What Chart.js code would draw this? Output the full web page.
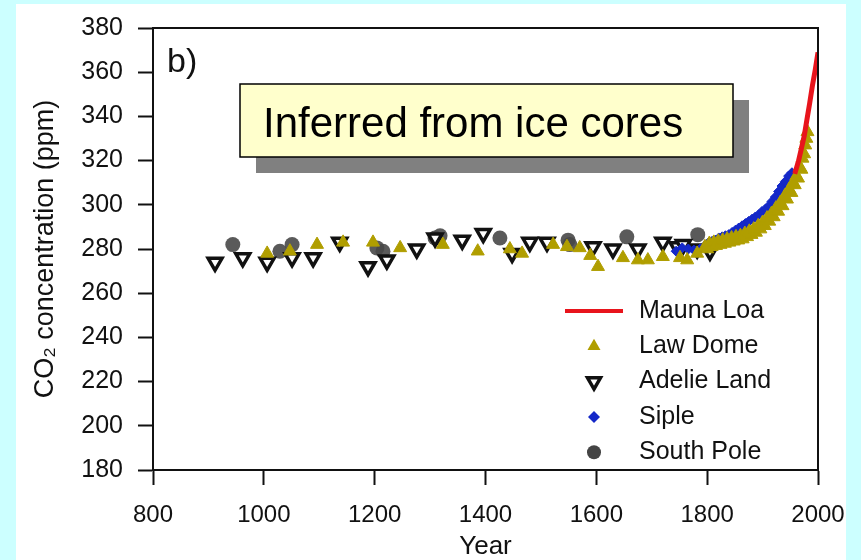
<!DOCTYPE html>
<html>
<head>
<meta charset="utf-8">
<script src="https://cdn.jsdelivr.net/npm/chart.js@4.4.1/dist/chart.umd.min.js"></script>
<style>
  html, body { margin: 0; padding: 0; background: #ccffff; }
  #panel { position: absolute; left: 16px; top: 4px; width: 830px; height: 556px; background: #fff; }
  canvas { display: block; }
</style>
</head>
<body>
<div id="panel"><canvas id="co2Chart" width="830" height="556"></canvas></div>
<script>
// tick labels
const xTicks = [800, 1000, 1200, 1400, 1600, 1800, 2000];
const yTicks = [180, 200, 220, 240, 260, 280, 300, 320, 340, 360, 380];

// Mauna Loa (direct measurements)
const maunaLoaYears = [1958, 1965, 1970, 1975, 1980, 1985, 1990, 1995, 2000];
const maunaLoaPpm   = [314, 320, 325.5, 331, 338.5, 346, 354, 361, 369];

// Law Dome
const lawDomeYears = [1006, 1047, 1096, 1143, 1197, 1246, 1323, 1386, 1444, 1466, 1522, 1547, 1570, 1589, 1603,
  1648, 1675, 1693, 1720, 1751, 1764, 1782, 1796,
  1800, 1804, 1808, 1812, 1816, 1820, 1824, 1828, 1832, 1836, 1840, 1844, 1848, 1852, 1856, 1860,
  1864, 1868, 1872, 1876, 1880, 1884, 1888, 1892, 1896, 1900, 1904, 1908, 1912, 1916, 1920, 1924,
  1928, 1932, 1936, 1940, 1944, 1948, 1952, 1955, 1958, 1961, 1964, 1967, 1970, 1972, 1975, 1977,
  1979, 1981];
const lawDomePpm = [278, 279, 282, 283, 283, 280.5, 282, 279, 280, 278, 282, 281, 280.5, 277, 272,
  276, 275, 275, 276.5, 276, 275, 278, 281,
  280, 282.5, 281, 283, 281.5, 283.5, 282, 284, 282.5, 284.5, 283, 285, 283.5, 285.5, 284, 286,
  284.5, 287, 285.5, 288, 286.5, 289, 287.5, 290.5, 289, 292, 290.5, 294, 292.5, 296, 294.5, 298.5,
  297, 301, 299.5, 304, 302.5, 307, 305.5, 310, 309, 313, 312, 317, 316, 321, 323, 327,
  330, 333];

// Adelie Land
const adelieYears = [912, 962, 1006, 1051, 1089, 1137, 1188, 1222, 1276, 1309, 1358, 1396, 1448, 1480, 1511,
  1594, 1630, 1675, 1720, 1746, 1757, 1782, 1805];
const adeliePpm = [274, 276, 274, 276, 276, 283, 272, 275, 280, 285, 284, 287, 278, 283, 283,
  281, 280, 280, 283, 281, 282, 280, 279];

// Siple
const sipleYears = [1744, 1755, 1766, 1776, 1787, 1796, 1803, 1809, 1815, 1821, 1827, 1833, 1839, 1845, 1851,
  1857, 1863, 1869, 1875, 1881, 1887, 1893, 1899, 1905, 1911, 1917, 1923, 1929, 1935, 1941, 1947, 1953];
const siplePpm = [279, 280.5, 280, 279.5, 280, 281.5, 283, 283.5, 284, 285, 285.5, 286, 286.5, 287.5, 288.5,
  289.5, 290.5, 291.5, 292.5, 293.5, 294.5, 295.5, 297, 298, 299.5, 301.5, 303.5, 306, 308.5, 310.5, 313, 314.5];

// South Pole
const southPoleYears = [944, 1029, 1051, 1204, 1215, 1309, 1318, 1426, 1549, 1552, 1655, 1783];
const southPolePpm   = [282, 279, 282, 280.5, 279, 285, 286, 285, 284, 282, 285.5, 286.5];

const pts = (xs, ys) => xs.map((x, i) => ({ x: x, y: ys[i] }));

const FONT = '"Liberation Sans", Arial, Helvetica, sans-serif';

const styles = {
    maunaLoa: { color: '#e8141c' },
    lawDome: { color: '#b09e00' },
    adelie: { fill: '#ffffff', stroke: '#111111' },
    siple: { color: '#1428c8' },
    southPole: { color: 'rgba(72,72,72,0.9)' }
};

function drawMarker(ctx, kind, x, y, r) {
    ctx.beginPath();
    if (kind === 'line') {
        ctx.strokeStyle = styles.maunaLoa.color;
        ctx.lineWidth = 4;
        ctx.moveTo(x - 29, y); ctx.lineTo(x + 29, y);
        ctx.stroke();
        return;
    }
    if (kind === 'up' || kind === 'down') {
        const s = kind === 'up' ? -1 : 1;
        ctx.moveTo(x, y + s * r);
        ctx.lineTo(x + r * 0.866, y - s * r * 0.5);
        ctx.lineTo(x - r * 0.866, y - s * r * 0.5);
        ctx.closePath();
    } else if (kind === 'diamond') {
        ctx.moveTo(x, y - r); ctx.lineTo(x + r, y); ctx.lineTo(x, y + r); ctx.lineTo(x - r, y);
        ctx.closePath();
    } else {
        ctx.arc(x, y, r, 0, Math.PI * 2);
    }
    if (kind === 'down') {
        ctx.fillStyle = styles.adelie.fill; ctx.fill();
        ctx.strokeStyle = styles.adelie.stroke; ctx.lineWidth = 3.5; ctx.stroke();
    } else {
        ctx.fillStyle = kind === 'up' ? styles.lawDome.color : kind === 'diamond' ? styles.siple.color : '#444';
        ctx.fill();
    }
}

const legendItems = [
    { label: 'Mauna Loa', kind: 'line', r: 0 },
    { label: 'Law Dome', kind: 'up', r: 7.5 },
    { label: 'Adelie Land', kind: 'down', r: 7.5 },
    { label: 'Siple', kind: 'diamond', r: 6 },
    { label: 'South Pole', kind: 'circle', r: 7 }
];

const decorations = {
    id: 'decorations',
    afterDatasetsDraw(chart) {
        const { ctx, chartArea: a } = chart;
        ctx.save();
        // top and right frame
        ctx.strokeStyle = '#111';
        ctx.lineWidth = 2;
        ctx.beginPath();
        ctx.moveTo(a.left, a.top);
        ctx.lineTo(a.right, a.top);
        ctx.lineTo(a.right, a.bottom);
        ctx.stroke();

        // panel letter
        ctx.fillStyle = '#111';
        ctx.textBaseline = 'alphabetic';
        ctx.font = '34px ' + FONT;
        ctx.fillText('b)', a.left + 14, a.top + 44);

        // callout box
        const bx = a.left + 87, by = a.top + 56, bw = 493, bh = 73;
        ctx.fillStyle = '#808080';
        ctx.fillRect(bx + 16, by + 16, bw, bh);
        ctx.fillStyle = '#ffffcc';
        ctx.fillRect(bx, by, bw, bh);
        ctx.strokeStyle = '#000';
        ctx.lineWidth = 1.5;
        ctx.strokeRect(bx, by, bw, bh);
        ctx.fillStyle = '#000';
        ctx.font = '42px ' + FONT;
        ctx.fillText('Inferred from ice cores', bx + 23, by + 53);

        // legend
        ctx.font = '25px ' + FONT;
        ctx.textBaseline = 'middle';
        legendItems.forEach((item, i) => {
            const y = a.top + 283 + i * 35.3;
            drawMarker(ctx, item.kind, a.left + 441, y, item.r);
            ctx.fillStyle = '#111';
            ctx.fillText(item.label, a.left + 486, y);
        });
        ctx.restore();
    }
};

new Chart(document.getElementById('co2Chart'), {
    type: 'scatter',
    data: {
        datasets: [
            {
                label: 'Mauna Loa',
                data: pts(maunaLoaYears, maunaLoaPpm),
                showLine: true,
                borderColor: styles.maunaLoa.color,
                borderWidth: 5,
                pointRadius: 0,
                order: 0
            },
            {
                label: 'Law Dome',
                data: pts(lawDomeYears, lawDomePpm),
                pointStyle: 'triangle',
                pointRadius: 7.5,
                backgroundColor: styles.lawDome.color,
                borderColor: styles.lawDome.color,
                borderWidth: 1,
                order: 1
            },
            {
                label: 'Adelie Land',
                data: pts(adelieYears, adeliePpm),
                pointStyle: 'triangle',
                pointRotation: 180,
                pointRadius: 8,
                backgroundColor: styles.adelie.fill,
                borderColor: styles.adelie.stroke,
                borderWidth: 3.5,
                order: 3
            },
            {
                label: 'Siple',
                data: pts(sipleYears, siplePpm),
                pointStyle: 'rectRot',
                pointRadius: 5,
                backgroundColor: styles.siple.color,
                borderColor: styles.siple.color,
                borderWidth: 1,
                order: 2
            },
            {
                label: 'South Pole',
                data: pts(southPoleYears, southPolePpm),
                pointStyle: 'circle',
                pointRadius: 7.5,
                backgroundColor: styles.southPole.color,
                borderWidth: 0,
                order: 4
            }
        ]
    },
    options: {
        responsive: false,
        animation: false,
        layout: { padding: { top: 24, right: 28, left: 0, bottom: 0 } },
        plugins: {
            legend: { display: false },
            tooltip: { enabled: false }
        },
        scales: {
            x: {
                type: 'linear',
                min: 800,
                max: 2000,
                afterBuildTicks: s => { s.ticks = xTicks.map(v => ({ value: v })); },
                afterFit: s => { s.height = 90; s.paddingLeft = 0; s.paddingRight = 0; },
                ticks: { color: '#111', font: { size: 24, family: FONT }, padding: 16, callback: v => String(v) },
                grid: { drawOnChartArea: false, tickLength: 15, tickWidth: 2, tickColor: '#111' },
                border: { display: true, color: '#111', width: 2 },
                title: { display: true, text: 'Year', color: '#111', font: { size: 26, family: FONT }, padding: { top: 0, bottom: -2 } }
            },
            y: {
                type: 'linear',
                min: 180,
                max: 380,
                afterBuildTicks: s => { s.ticks = yTicks.map(v => ({ value: v })); },
                afterFit: s => { s.width = 137; s.paddingTop = 0; s.paddingBottom = 0; },
                ticks: { color: '#111', font: { size: 25, family: FONT }, padding: 15, callback: v => String(v) },
                grid: { drawOnChartArea: false, tickLength: 15, tickWidth: 2, tickColor: '#111' },
                border: { display: true, color: '#111', width: 2 },
                title: { display: true, text: 'CO₂ concentration (ppm)', color: '#111', font: { size: 27, family: FONT }, padding: { top: 13, bottom: 0 } }
            }
        }
    },
    plugins: [decorations]
});
</script>
</body>
</html>
